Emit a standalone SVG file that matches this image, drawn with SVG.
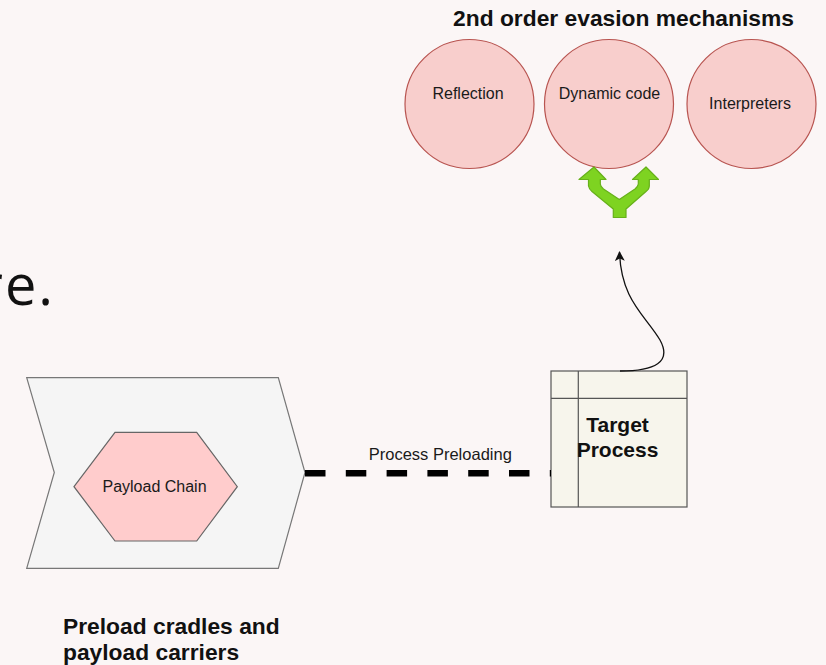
<svg xmlns="http://www.w3.org/2000/svg" width="826" height="665" viewBox="0 0 826 665">
<defs>
<style>
.lbl{font-family:"Liberation Sans",Arial,sans-serif;fill:#1a1a1a;}
.bold{font-family:"Liberation Sans",Arial,sans-serif;font-weight:bold;fill:#111;}
.circ{fill:#f8cecc;stroke:#b85450;stroke-width:1.2;}
</style>
<marker id="ah" viewBox="0 0 10 10" refX="9" refY="5" markerWidth="10" markerHeight="10" markerUnits="userSpaceOnUse" orient="auto">
<path d="M0,0 L10,5 L0,10 L2.5,5 Z" fill="#111"/>
</marker>
</defs>
<rect width="826" height="665" fill="#fbf6f6"/>
<text x="-20" y="305" font-family="'Open Sans','Noto Sans',sans-serif" font-size="56" letter-spacing="2" fill="#111">re.</text>

<text class="bold" x="623.5" y="26" font-size="22.8" text-anchor="middle">2nd order evasion mechanisms</text>

<g id="reflection">
<circle class="circ" cx="469.5" cy="104" r="64.5"/>
<text class="lbl" x="468" y="99" font-size="16" text-anchor="middle">Reflection</text>
</g>
<g id="dynamic-code">
<circle class="circ" cx="609" cy="104" r="64.5"/>
<text class="lbl" x="609.5" y="99" font-size="16" text-anchor="middle">Dynamic code</text>
</g>
<g id="interpreters">
<circle class="circ" cx="751.5" cy="104" r="64.5"/>
<text class="lbl" x="750" y="109" font-size="16" text-anchor="middle">Interpreters</text>
</g>

<g id="split-arrow">
<path d="M594,167 L579,179.5 L588.5,179.5 L588.5,186 Q589,189 592,191.5 L613.3,209 L613.3,217.5 L626,217.5 L626,209 L646,191.5 Q649.3,189 649.3,186 L649.3,179.5 L658.5,179.5 L646,167 L632.5,179.5 L638.3,179.5 L638.3,184 Q638,186.5 635,189 L619.3,199.5 L603.5,189 Q600.5,186.5 600.3,184 L600.3,179.5 L606,179.5 Z" fill="#7ed321" stroke="#66b019" stroke-width="1.2" stroke-linejoin="round"/>
</g>

<g id="chevron">
<polygon points="26.7,377.7 278.3,377.7 305,472.5 278.3,568.3 26.7,568.3 54.3,472.5" fill="#f5f5f5" stroke="#777" stroke-width="1.2"/>
</g>
<g id="payload-chain">
<polygon points="74,486.7 115,432.3 196.7,432.3 237.3,486.7 196.7,541 115,541" fill="#ffcccc" stroke="#666" stroke-width="1.2"/>
<text class="lbl" x="154.5" y="492" font-size="16" text-anchor="middle">Payload Chain</text>
</g>

<g id="target-process">
<rect x="551" y="371" width="136" height="136" fill="#f7f5ec" stroke="#555" stroke-width="1.2"/>
<line x1="578.3" y1="371" x2="578.3" y2="507" stroke="#555" stroke-width="1.2"/>
<line x1="551" y1="398.3" x2="687" y2="398.3" stroke="#555" stroke-width="1.2"/>
<text class="bold" x="617.5" y="432" font-size="21" text-anchor="middle">Target</text>
<text class="bold" x="617.5" y="457" font-size="21" text-anchor="middle">Process</text>
</g>

<g id="connectors">
<line x1="305" y1="473.3" x2="551" y2="473.3" stroke="#000" stroke-width="6.5" stroke-dasharray="20.5 20.3"/>
<text class="lbl" x="440.3" y="460" font-size="16.5" text-anchor="middle">Process Preloading</text>
<path d="M620,371 C655,371 672,362 660,340 C645,315 621,300 619.5,252" fill="none" stroke="#111" stroke-width="1.3" marker-end="url(#ah)"/>
</g>

<text class="bold" x="63" y="633.5" font-size="22.8">Preload cradles and</text>
<text class="bold" x="63" y="659.5" font-size="22.8">payload carriers</text>
</svg>
